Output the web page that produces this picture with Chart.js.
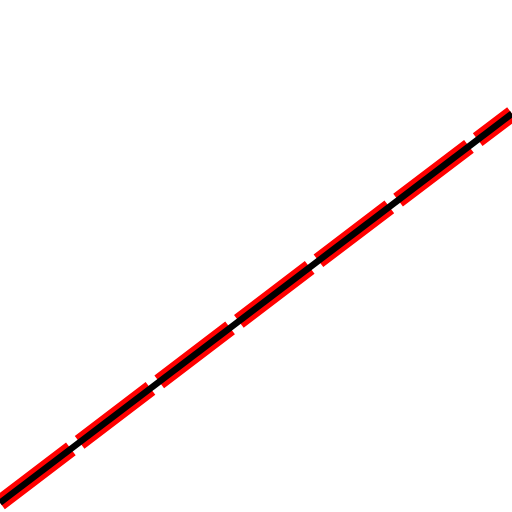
<!DOCTYPE html>
<html>
<head>
<meta charset="utf-8">
<script src="https://cdn.jsdelivr.net/npm/chart.js@4/dist/chart.umd.min.js"></script>
<style>
    html, body { margin: 0; padding: 0; background: #ffffff; }
    #wrap { width: 512px; height: 512px; }
</style>
</head>
<body>
<div id="wrap"><canvas id="chart" width="512" height="512"></canvas></div>
<script>
// Two overlapping series: solid black line over a thick dashed red one
const xValues = [0, 1];
const blackValues = [0.018, 0.778];
const redValues = [0.018, 0.778];

const toPoints = (ys) => xValues.map((x, i) => ({ x: x, y: ys[i] }));

const ctx = document.getElementById('chart').getContext('2d');

new Chart(ctx, {
    type: 'scatter',
    data: {
        datasets: [
            {
                label: 'Black',
                data: toPoints(blackValues),
                showLine: true,
                borderColor: '#000000',
                borderWidth: 6.5,
                pointRadius: 0,
                order: 0
            },
            {
                label: 'Red',
                data: toPoints(redValues),
                showLine: true,
                borderColor: '#ff0000',
                borderWidth: 16,
                borderDash: [89, 11],
                pointRadius: 0,
                order: 1
            }
        ]
    },
    options: {
        responsive: false,
        animation: false,
        layout: { padding: 0 },
        plugins: {
            legend: { display: false },
            tooltip: { enabled: false }
        },
        scales: {
            x: { type: 'linear', display: false, min: 0, max: 1 },
            y: { type: 'linear', display: false, min: 0, max: 1 }
        }
    }
});
</script>
</body>
</html>
